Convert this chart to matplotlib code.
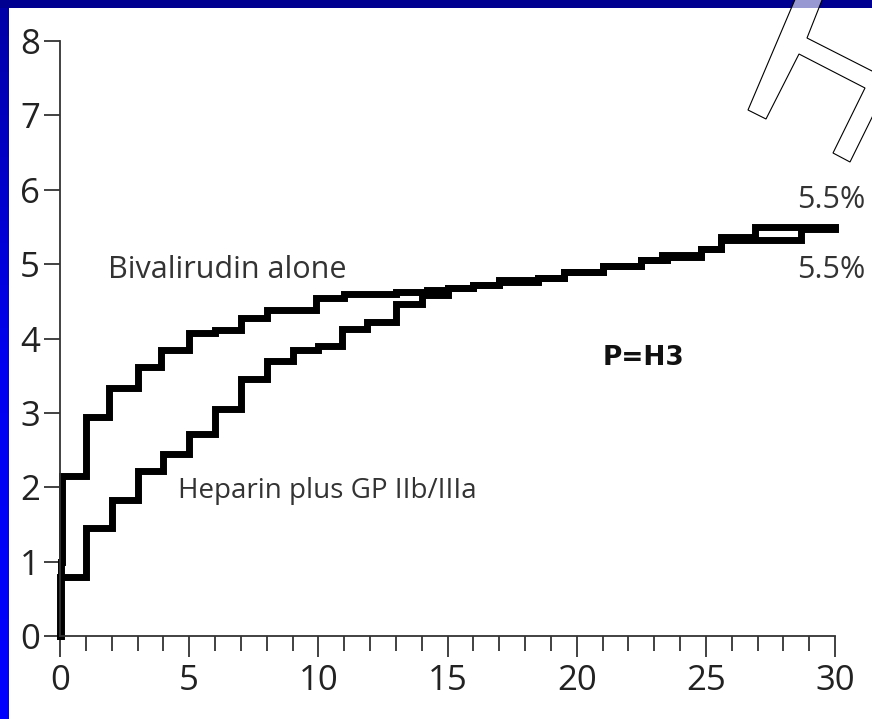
import numpy as np
import matplotlib
matplotlib.use("Agg")
import matplotlib.pyplot as plt
from matplotlib.patches import Rectangle, Polygon

# data (days vs. cumulative %)
biv_x = [0, 0.03, 0.06, 1.0, 1.9, 3.0, 3.9, 5.0, 6.0, 7.0, 8.0, 9.9, 11.0, 13.0, 14.2,
         15.0, 16.0, 17.0, 18.5, 19.5, 21.0, 22.5, 23.5, 24.8, 25.6, 26.9, 30.0]
biv_y = [0, 1.0, 2.15, 2.95, 3.33, 3.62, 3.85, 4.07, 4.12, 4.27, 4.38, 4.55, 4.60, 4.62, 4.65,
         4.68, 4.72, 4.78, 4.82, 4.90, 4.97, 5.05, 5.10, 5.20, 5.36, 5.50, 5.50]

hep_x = [0, 1.0, 2.0, 3.0, 4.0, 5.0, 6.0, 7.0, 8.0, 9.0, 10.0, 10.9, 11.9, 13.0, 14.0,
         15.0, 16.0, 17.0, 18.5, 19.5, 21.0, 22.5, 23.3, 24.8, 25.6, 28.7, 30.0]
hep_y = [0.8, 1.45, 1.83, 2.22, 2.45, 2.72, 3.05, 3.45, 3.70, 3.85, 3.90, 4.13, 4.22, 4.47, 4.58,
         4.68, 4.72, 4.76, 4.82, 4.90, 4.97, 5.05, 5.12, 5.20, 5.33, 5.47, 5.47]

x_major = [0, 5, 10, 15, 20, 25, 30]
y_major = [0, 1, 2, 3, 4, 5, 6, 7, 8]

W, H = 872, 719
fig = plt.figure(figsize=(W / 100, H / 100), dpi=100)
fig.patch.set_facecolor("white")

# blue frame (top dark bar, left gradient bar)
fig.add_artist(Rectangle((0, 1 - 8 / H), 1, 8 / H, transform=fig.transFigure,
                         facecolor="#000090", edgecolor="none", zorder=0))
gax = fig.add_axes([0, 0, 8 / W, 1 - 8 / H])
grad = np.linspace(0, 1, 100).reshape(-1, 1)
gax.imshow(grad, aspect="auto", cmap=matplotlib.colors.LinearSegmentedColormap.from_list(
    "b", ["#0000a8", "#0000f0", "#0000ff"]), origin="upper")
gax.axis("off")

ax = fig.add_axes([60 / W, 1 - 636 / H, (835 - 60) / W, (636 - 41) / H])
ax.set_xlim(0, 30)
ax.set_ylim(0, 8)

ax.step([0] + biv_x, [0] + biv_y, where="post", color="black", lw=5, clip_on=False,
        solid_joinstyle="miter")
ax.step([0] + hep_x, [0] + hep_y, where="post", color="black", lw=5, clip_on=False,
        solid_joinstyle="miter")

for s in ["top", "right"]:
    ax.spines[s].set_visible(False)
for s in ["left", "bottom"]:
    ax.spines[s].set_linewidth(1.3)
    ax.spines[s].set_color("#333333")

tfont = "Open Sans"
ax.set_xticks(x_major)
ax.set_xticks(np.arange(0, 31, 1), minor=True)
ax.set_yticks(y_major)
ax.set_xticklabels([str(v) for v in x_major], fontsize=25, family=tfont, color="#222222")
ax.set_yticklabels([str(v) for v in y_major], fontsize=25, family=tfont, color="#222222")
ax.tick_params(axis="x", which="major", length=15, width=1.3, pad=5, color="#333333")
ax.tick_params(axis="x", which="minor", length=11, width=1.3, color="#333333")
ax.tick_params(axis="y", which="major", length=11.5, width=1.3, pad=3, color="#333333")

ax.text(1.86, 4.81, "Bivalirudin alone", fontsize=22, family=tfont, color="#333333",
        ha="left", va="baseline")
ax.text(4.56, 1.855, "Heparin plus GP IIb/IIIa", fontsize=20, family=tfont, color="#333333",
        ha="left", va="baseline")
ax.text(28.55, 5.75, "5.5%", fontsize=22, family=tfont, color="#333333",
        ha="left", va="baseline", clip_on=False)
ax.text(28.55, 4.81, "5.5%", fontsize=22, family=tfont, color="#333333",
        ha="left", va="baseline", clip_on=False)
ax.text(22.6, 3.74, "P=H3", fontsize=19, fontweight="bold", family="DejaVu Sans",
        color="#111111", ha="center", va="center")

# outline shape in the top right corner (pixel coords from top-left)
pts = [(799, -10), (748, 110), (766, 119), (799, 54), (865, 88), (833, 153), (850, 162),
       (930, 0), (900, -10), (873, 71.5), (807, 38), (826, -10)]
fig.add_artist(Polygon([(px / W, 1 - py / H) for px, py in pts], closed=True,
                       transform=fig.transFigure, facecolor=(1, 1, 1, 0.6),
                       edgecolor="black", lw=0.8, zorder=5))

fig.savefig("out.png", dpi=100)
